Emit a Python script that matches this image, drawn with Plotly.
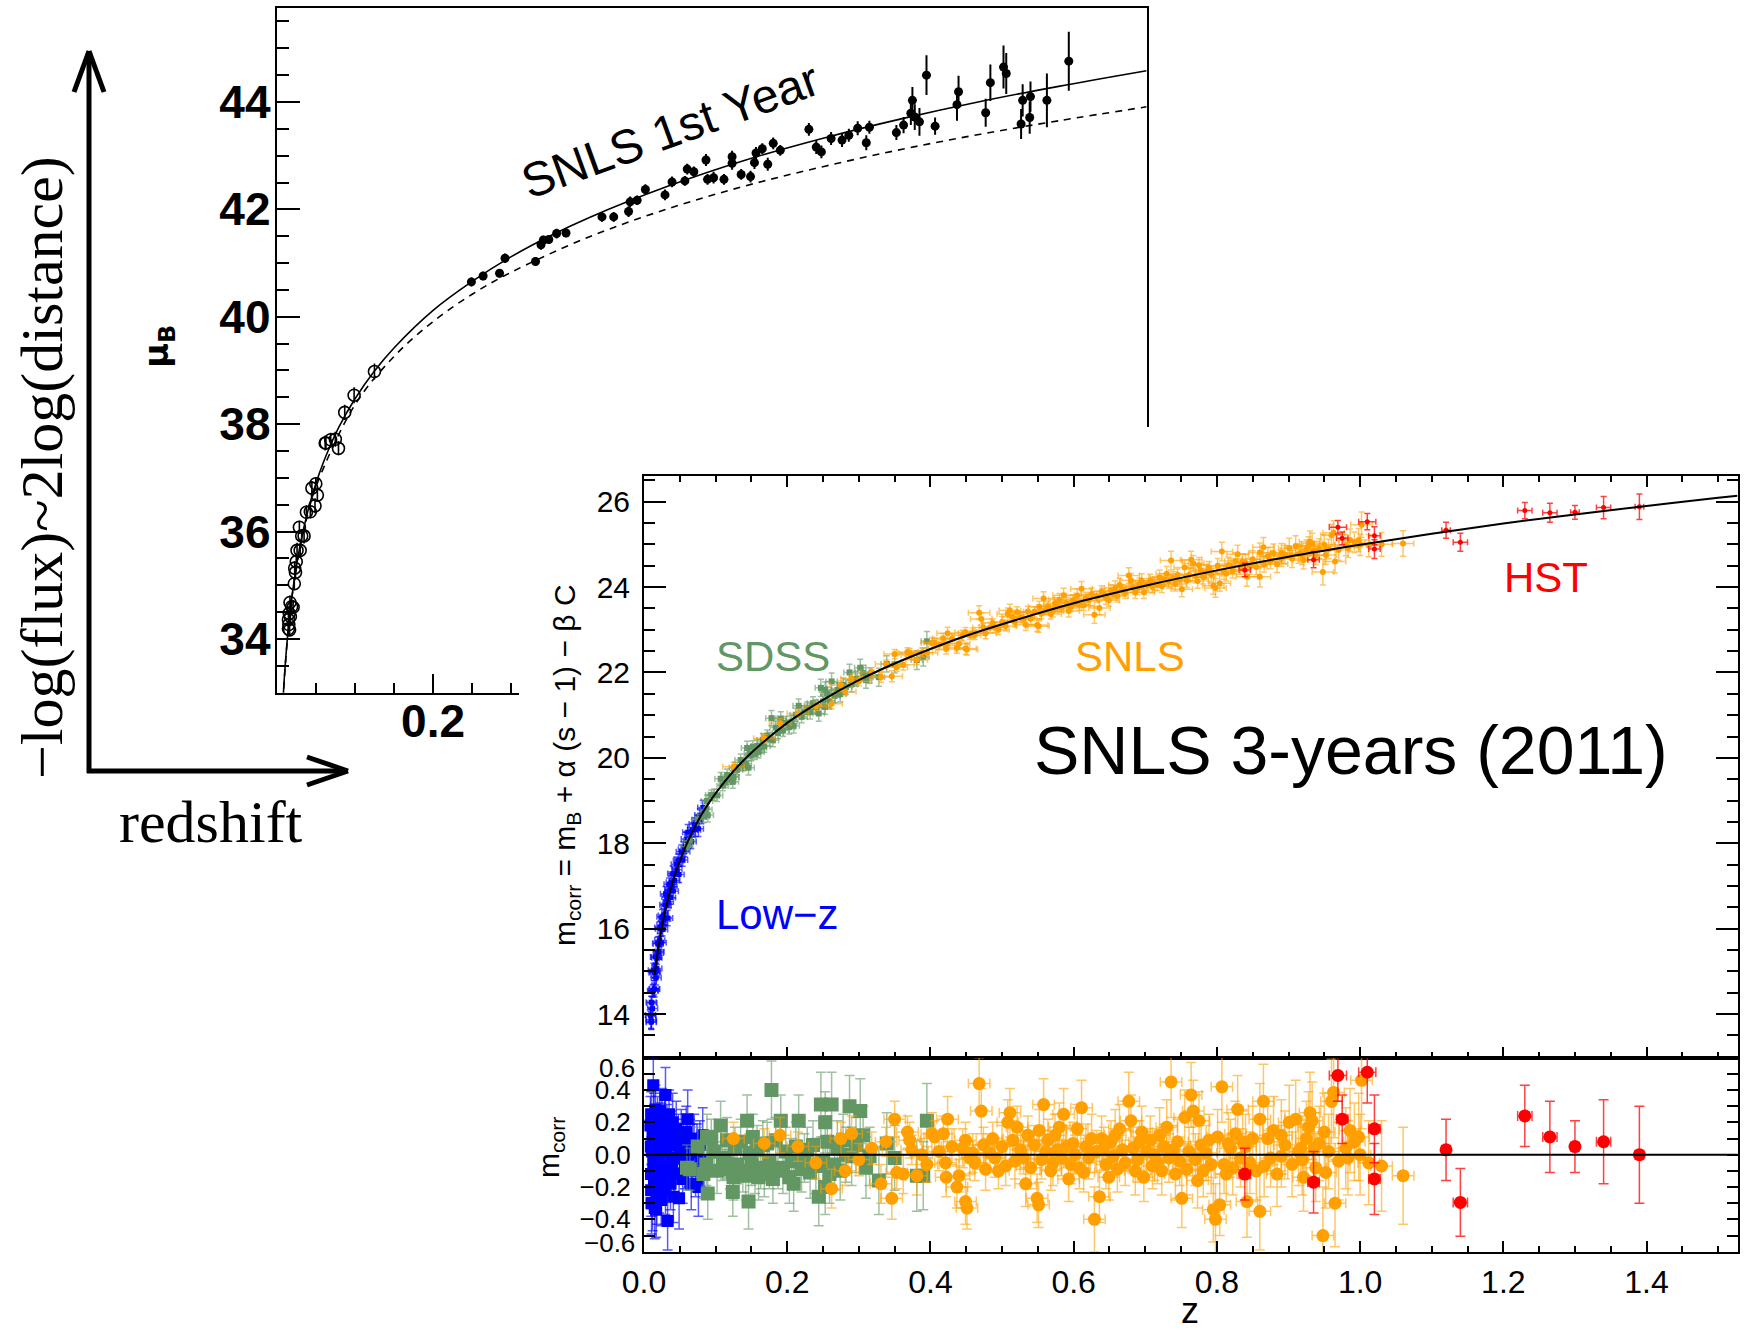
import plotly.graph_objects as go

W, H = 1747, 1333


def fx(px):
    return px / W


def fy(py):
    return 1 - py / H


# ---------------- SNLS first-year Hubble diagram (upper left) ----------------
near_z = [0.0150, 0.0150, 0.0155, 0.0160, 0.0165, 0.0170, 0.0175, 0.0190, 0.0210, 0.0225,
          0.0230, 0.0250, 0.0260, 0.0240, 0.0290, 0.0300, 0.0320, 0.0350, 0.0380, 0.0430,
          0.0450, 0.0490, 0.0500, 0.0520, 0.0620, 0.0630, 0.0690, 0.0750, 0.0790, 0.0870,
          0.0990, 0.1250]
near_mu = [34.36, 34.19, 34.27, 34.48, 34.17, 34.68, 34.42, 34.60, 34.59, 35.03,
           35.32, 35.44, 35.65, 35.24, 36.08, 35.65, 35.92, 35.92, 36.36, 36.37,
           36.81, 36.48, 36.89, 36.68, 37.65, 37.65, 37.71, 37.72, 37.55, 38.22,
           38.54, 38.98]
near_err = [0.12, 0.13, 0.12, 0.14, 0.12, 0.13, 0.12, 0.14, 0.13, 0.12,
            0.13, 0.12, 0.14, 0.13, 0.12, 0.13, 0.12, 0.14, 0.13, 0.12,
            0.13, 0.14, 0.12, 0.13, 0.14, 0.12, 0.13, 0.14, 0.13, 0.14,
            0.15, 0.15]

snls1_z = [0.249, 0.264, 0.285, 0.292, 0.331, 0.338, 0.341, 0.348, 0.358, 0.370,
           0.416, 0.431, 0.450, 0.452, 0.461, 0.4715, 0.4966, 0.5056, 0.522, 0.525,
           0.5335, 0.549, 0.551, 0.5587, 0.572, 0.5824, 0.5824, 0.594, 0.606, 0.611,
           0.613, 0.621, 0.628, 0.635, 0.644, 0.6806, 0.690, 0.6966, 0.709, 0.723,
           0.7317, 0.743, 0.754, 0.758, 0.7925, 0.8017, 0.811, 0.813, 0.816, 0.822,
           0.831, 0.842, 0.870, 0.872, 0.9067, 0.9127, 0.9295, 0.933, 0.952, 0.954,
           0.963, 0.964, 0.985, 1.013]
snls1_mu = [40.65, 40.76, 40.81, 41.09, 41.03, 41.34, 41.43, 41.44, 41.55, 41.56,
            41.86, 41.86, 41.96, 42.14, 42.17, 42.37, 42.27, 42.51, 42.53, 42.75,
            42.70, 42.92, 42.56, 42.59, 42.56, 42.98, 42.86, 42.65, 42.61, 42.87,
            43.05, 43.13, 42.84, 43.23, 43.10, 43.49, 43.16, 43.07, 43.32, 43.29,
            43.38, 43.51, 43.24, 43.53, 43.43, 43.57, 43.79, 44.03, 43.72, 43.63,
            44.50, 43.55, 43.95, 44.19, 43.80, 44.36, 44.65, 44.53, 43.59, 44.03,
            43.71, 44.10, 44.03, 44.76]
snls1_err = [0.08, 0.08, 0.08, 0.09, 0.08, 0.09, 0.08, 0.08, 0.09, 0.08,
             0.09, 0.09, 0.10, 0.10, 0.09, 0.10, 0.10, 0.10, 0.09, 0.10,
             0.10, 0.11, 0.10, 0.11, 0.10, 0.11, 0.12, 0.10, 0.11, 0.12,
             0.11, 0.10, 0.12, 0.11, 0.10, 0.12, 0.13, 0.12, 0.12, 0.13,
             0.12, 0.13, 0.14, 0.12, 0.14, 0.15, 0.22, 0.25, 0.24, 0.26,
             0.37, 0.16, 0.30, 0.30, 0.26, 0.34, 0.40, 0.38, 0.28, 0.30,
             0.30, 0.28, 0.50, 0.55]

# accelerating (solid) and matter-only (dashed) distance-modulus curves
lcdm_z = [0.008, 0.010, 0.015, 0.020, 0.030, 0.040, 0.050, 0.060, 0.070, 0.080,
          0.100, 0.125, 0.150, 0.200, 0.250, 0.300, 0.350, 0.400, 0.500, 0.600,
          0.700, 0.800, 0.900, 1.000, 1.1125]
lcdm_mu = [32.82, 33.33, 34.22, 34.85, 35.75, 36.39, 36.89, 37.30, 37.65, 37.96,
           38.47, 38.99, 39.42, 40.12, 40.66, 41.12, 41.51, 41.85, 42.43, 42.92,
           43.33, 43.69, 44.01, 44.29, 44.58]
eds_z = [0.008, 0.010, 0.015, 0.020, 0.030, 0.040, 0.050, 0.100, 0.150, 0.200,
         0.250, 0.300, 0.400, 0.500, 0.600, 0.700, 0.800, 0.900, 1.000, 1.1125]
eds_mu = [32.83, 33.31, 34.20, 34.83, 35.71, 36.34, 36.83, 38.36, 39.26, 39.91,
          40.42, 40.83, 41.49, 42.01, 42.44, 42.80, 43.12, 43.40, 43.65, 43.91]

# ---------------- SNLS 3-year Hubble diagram (lower right) ----------------
fit_z = [0.015, 0.02, 0.03, 0.04, 0.05, 0.06, 0.07, 0.08, 0.09, 0.10,
         0.125, 0.15, 0.20, 0.25, 0.30, 0.35, 0.40, 0.45, 0.50, 0.60,
         0.70, 0.80, 0.90, 1.00, 1.10, 1.20, 1.30, 1.40, 1.50, 1.527]
fit_m = [14.92, 15.55, 16.45, 17.09, 17.59, 18.00, 18.35, 18.66, 18.93, 19.17,
         19.69, 20.12, 20.82, 21.36, 21.82, 22.21, 22.55, 22.86, 23.13, 23.62,
         24.03, 24.39, 24.71, 24.99, 25.25, 25.49, 25.70, 25.90, 26.09, 26.14]

lowz_z = [0.0090, 0.0095, 0.0098, 0.0100, 0.0100, 0.0105, 0.0110, 0.0120, 0.0120, 0.0130,
          0.0130, 0.0140, 0.0140, 0.0150, 0.0150, 0.0160, 0.0160, 0.0170, 0.0170, 0.0180,
          0.0180, 0.0190, 0.0200, 0.0200, 0.0210, 0.0220, 0.0220, 0.0230, 0.0240, 0.0250,
          0.0250, 0.0260, 0.0270, 0.0280, 0.0290, 0.0300, 0.0300, 0.0310, 0.0320, 0.0330,
          0.0340, 0.0350, 0.0360, 0.0370, 0.0380, 0.0390, 0.0400, 0.0410, 0.0420, 0.0430,
          0.0450, 0.0460, 0.0480, 0.0490, 0.0500, 0.0520, 0.0540, 0.0550, 0.0570, 0.0590,
          0.0610, 0.0620, 0.0640, 0.0660, 0.0680, 0.0700, 0.0720, 0.0740, 0.0760, 0.0780,
          0.0800, 0.0820]
lowz_m = [13.98, 13.96, 13.87, 14.28, 13.81, 13.83, 14.26, 14.13, 14.55, 15.03,
          14.55, 14.97, 14.59, 15.00, 14.59, 15.34, 14.98, 14.85, 15.34, 15.32,
          15.07, 15.66, 15.43, 15.65, 15.46, 16.03, 15.73, 16.00, 15.67, 16.09,
          16.28, 15.98, 16.31, 16.22, 16.56, 16.82, 16.23, 16.54, 16.74, 16.25,
          16.63, 17.04, 16.91, 16.73, 17.09, 16.98, 17.29, 16.88, 17.28, 17.13,
          17.51, 17.38, 17.60, 17.27, 17.61, 17.80, 17.61, 17.86, 17.81, 18.10,
          18.26, 18.03, 18.23, 18.04, 18.31, 18.45, 18.32, 18.53, 18.34, 18.66,
          18.62, 18.84]
lowz_res = [0.18, 0.05, -0.12, 0.25, -0.22, -0.30, 0.02, -0.30, 0.12, 0.43,
            -0.05, 0.20, -0.18, 0.08, -0.33, 0.28, -0.08, -0.34, 0.15, 0.00,
            -0.25, 0.22, -0.12, 0.10, -0.20, 0.27, -0.03, 0.14, -0.28, 0.05,
            0.24, -0.15, 0.10, -0.07, 0.19, 0.37, -0.22, 0.02, 0.15, -0.41,
            -0.10, 0.25, 0.06, -0.18, 0.12, -0.05, 0.20, -0.26, 0.08, -0.12,
            0.16, -0.02, 0.10, -0.27, 0.02, 0.12, -0.15, 0.05, -0.08, 0.14,
            0.22, -0.05, 0.08, -0.18, 0.02, 0.10, -0.10, 0.05, -0.20, 0.06,
            -0.04, 0.12]
lowz_err = [0.18, 0.15, 0.20, 0.14, 0.16, 0.19, 0.15, 0.17, 0.13, 0.16,
            0.15, 0.18, 0.14, 0.16, 0.19, 0.15, 0.13, 0.17, 0.15, 0.16,
            0.18, 0.14, 0.15, 0.17, 0.16, 0.13, 0.15, 0.18, 0.16, 0.14,
            0.17, 0.15, 0.16, 0.14, 0.19, 0.17, 0.15, 0.13, 0.16, 0.18,
            0.14, 0.15, 0.17, 0.16, 0.15, 0.13, 0.18, 0.16, 0.14, 0.15,
            0.17, 0.16, 0.15, 0.19, 0.14, 0.16, 0.15, 0.17, 0.13, 0.16,
            0.18, 0.15, 0.14, 0.16, 0.17, 0.15, 0.16, 0.14, 0.18, 0.15,
            0.16, 0.17]

sdss_z = [0.060, 0.064, 0.075, 0.083, 0.087, 0.088, 0.089, 0.094, 0.098, 0.102,
          0.107, 0.110, 0.113, 0.116, 0.120, 0.124, 0.124, 0.125, 0.127, 0.130,
          0.135, 0.138, 0.142, 0.144, 0.146, 0.148, 0.150, 0.152, 0.155, 0.158,
          0.160, 0.163, 0.166, 0.168, 0.172, 0.175, 0.178, 0.180, 0.184, 0.187,
          0.191, 0.194, 0.198, 0.203, 0.206, 0.209, 0.212, 0.216, 0.220, 0.224,
          0.228, 0.232, 0.236, 0.240, 0.244, 0.247, 0.250, 0.253, 0.253, 0.256,
          0.259, 0.262, 0.266, 0.270, 0.274, 0.278, 0.282, 0.287, 0.290, 0.296,
          0.302, 0.306, 0.310, 0.315, 0.328, 0.339, 0.350, 0.381, 0.390, 0.395]
sdss_m = [17.92, 18.06, 18.56, 18.63, 18.79, 18.99, 18.66, 19.13, 19.14, 19.12,
          19.51, 19.35, 19.43, 19.60, 19.50, 19.56, 19.44, 19.55, 19.77, 19.72,
          19.95, 19.82, 19.86, 20.23, 19.77, 20.10, 20.06, 20.26, 20.09, 20.28,
          20.14, 20.24, 20.42, 20.27, 20.52, 20.44, 20.93, 20.41, 20.71, 20.58,
          20.92, 20.64, 20.82, 20.72, 20.85, 20.75, 21.01, 21.22, 20.96, 21.07,
          21.17, 21.07, 21.28, 21.19, 21.04, 21.64, 21.32, 21.59, 21.19, 21.50,
          21.33, 21.79, 21.45, 21.59, 21.49, 21.71, 21.66, 22.00, 21.72, 21.85,
          22.11, 21.99, 21.82, 21.93, 21.89, 22.20, 22.19, 22.29, 22.36, 22.73]
sdss_res = [-0.08, -0.09, 0.05, -0.12, -0.06, 0.11, -0.24, 0.10, 0.02, -0.10,
            0.18, -0.04, -0.02, 0.09, -0.09, -0.11, -0.23, -0.14, 0.04, -0.06,
            0.08, -0.10, -0.13, 0.21, -0.29, 0.01, -0.06, 0.11, -0.11, 0.03,
            -0.14, -0.08, 0.06, -0.12, 0.07, -0.05, 0.40, -0.15, 0.09, -0.08,
            0.21, -0.10, 0.02, -0.14, -0.04, -0.18, 0.05, 0.21, -0.09, -0.02,
            0.03, -0.11, 0.06, -0.07, -0.26, 0.31, -0.04, 0.20, -0.20, 0.08,
            -0.12, 0.31, -0.06, 0.04, -0.10, 0.09, 0.00, 0.30, -0.01, 0.06,
            0.27, 0.12, -0.08, -0.01, -0.16, 0.07, -0.02, -0.13, -0.13, 0.21]
sdss_err = [0.14, 0.13, 0.12, 0.15, 0.13, 0.14, 0.16, 0.12, 0.13, 0.14,
            0.15, 0.12, 0.13, 0.14, 0.12, 0.13, 0.15, 0.14, 0.13, 0.12,
            0.14, 0.13, 0.15, 0.16, 0.17, 0.12, 0.13, 0.14, 0.13, 0.15,
            0.14, 0.13, 0.15, 0.14, 0.13, 0.16, 0.18, 0.15, 0.14, 0.13,
            0.16, 0.14, 0.15, 0.16, 0.14, 0.17, 0.15, 0.16, 0.14, 0.15,
            0.14, 0.16, 0.15, 0.17, 0.18, 0.20, 0.15, 0.19, 0.17, 0.16,
            0.18, 0.20, 0.16, 0.17, 0.18, 0.16, 0.17, 0.19, 0.18, 0.17,
            0.20, 0.18, 0.19, 0.18, 0.21, 0.19, 0.20, 0.22, 0.21, 0.23]

snls_z = [0.125, 0.168, 0.190, 0.215, 0.240, 0.262, 0.275, 0.281, 0.290, 0.300,
          0.318, 0.331, 0.338, 0.346, 0.350, 0.353, 0.362, 0.368, 0.371, 0.374,
          0.381, 0.388, 0.395, 0.402, 0.406, 0.412, 0.418, 0.421, 0.422, 0.424,
          0.430, 0.437, 0.440, 0.445, 0.449, 0.449, 0.451, 0.455, 0.459, 0.462,
          0.468, 0.471, 0.474, 0.477, 0.483, 0.487, 0.490, 0.495, 0.500, 0.505,
          0.508, 0.511, 0.515, 0.518, 0.521, 0.526, 0.530, 0.533, 0.536, 0.540,
          0.545, 0.549, 0.551, 0.552, 0.555, 0.558, 0.561, 0.564, 0.568, 0.571,
          0.574, 0.577, 0.580, 0.583, 0.586, 0.590, 0.593, 0.596, 0.599, 0.602,
          0.605, 0.608, 0.611, 0.614, 0.617, 0.621, 0.625, 0.629, 0.632, 0.636,
          0.639, 0.642, 0.645, 0.649, 0.652, 0.655, 0.658, 0.661, 0.664, 0.668,
          0.672, 0.677, 0.680, 0.683, 0.686, 0.689, 0.692, 0.695, 0.698, 0.702,
          0.707, 0.710, 0.713, 0.717, 0.720, 0.723, 0.726, 0.730, 0.733, 0.736,
          0.739, 0.742, 0.745, 0.748, 0.751, 0.755, 0.758, 0.761, 0.764, 0.767,
          0.770, 0.773, 0.775, 0.778, 0.781, 0.785, 0.789, 0.792, 0.795, 0.798,
          0.801, 0.804, 0.807, 0.810, 0.813, 0.816, 0.819, 0.822, 0.826, 0.829,
          0.833, 0.836, 0.840, 0.842, 0.846, 0.850, 0.855, 0.860, 0.860, 0.865,
          0.866, 0.871, 0.875, 0.879, 0.884, 0.890, 0.890, 0.895, 0.901, 0.905,
          0.910, 0.914, 0.917, 0.919, 0.921, 0.925, 0.928, 0.930, 0.933, 0.936,
          0.938, 0.943, 0.948, 0.950, 0.952, 0.956, 0.960, 0.963, 0.965, 0.970,
          0.980, 0.983, 0.986, 0.992, 0.998, 1.000, 1.002, 1.012, 1.030, 1.060]
snls_m = [19.79, 20.46, 20.81, 21.04, 21.21, 21.27, 21.70, 21.55, 21.86, 21.79,
          22.01, 21.89, 22.20, 21.91, 22.43, 22.12, 22.18, 22.48, 22.45, 22.41,
          22.30, 22.47, 22.46, 22.69, 22.70, 22.65, 22.80, 22.63, 22.55, 22.92,
          22.79, 22.58, 22.67, 22.87, 22.94, 22.56, 22.54, 22.87, 22.92, 22.88,
          23.40, 23.25, 23.05, 22.92, 23.05, 23.16, 23.06, 23.00, 23.18, 23.09,
          23.37, 23.45, 23.30, 23.18, 23.41, 23.29, 23.26, 23.12, 23.43, 23.26,
          23.42, 23.11, 23.08, 23.54, 23.38, 23.73, 23.46, 23.54, 23.37, 23.44,
          23.62, 23.54, 23.70, 23.52, 23.81, 23.62, 23.44, 23.54, 23.69, 23.63,
          23.80, 23.58, 23.96, 23.57, 23.74, 23.69, 23.83, 23.35, 23.78, 23.51,
          23.89, 23.84, 23.75, 23.69, 23.92, 23.84, 23.98, 23.79, 24.05, 23.93,
          23.87, 24.27, 24.16, 24.00, 23.88, 23.96, 24.08, 24.15, 23.88, 24.06,
          24.15, 24.00, 24.08, 24.05, 24.23, 24.02, 24.18, 24.31, 24.13, 24.62,
          24.21, 24.07, 24.28, 24.17, 23.95, 24.46, 24.15, 24.28, 24.64, 24.55,
          24.26, 24.14, 24.51, 24.38, 24.23, 24.35, 24.44, 24.30, 24.03, 23.98,
          24.50, 24.09, 24.83, 24.36, 24.31, 24.51, 24.49, 24.38, 24.61, 24.77,
          24.48, 24.59, 24.57, 24.24, 24.49, 24.65, 24.47, 24.81, 24.24, 24.93,
          24.54, 24.72, 24.61, 24.80, 24.54, 24.80, 24.67, 24.76, 24.91, 24.66,
          24.96, 24.77, 24.80, 24.74, 24.63, 24.88, 24.96, 25.06, 25.02, 24.85,
          24.74, 24.90, 24.35, 24.99, 24.75, 24.89, 25.21, 25.27, 24.60, 24.87,
          24.98, 24.92, 25.10, 25.05, 25.10, 24.99, 25.46, 24.97, 25.00, 25.02]
snls_res = [0.10, 0.07, 0.12, 0.05, -0.05, -0.21, 0.10, -0.10, 0.13, -0.03,
            0.04, -0.18, 0.08, -0.27, 0.22, -0.11, -0.12, 0.14, 0.09, 0.03,
            -0.13, 0.00, -0.06, 0.13, 0.11, 0.02, 0.13, -0.05, -0.14, 0.22,
            0.05, -0.20, -0.13, 0.04, 0.09, -0.29, -0.33, -0.02, 0.01, -0.05,
            0.44, 0.27, 0.06, -0.09, 0.01, 0.10, -0.02, -0.10, 0.05, -0.07,
            0.20, 0.26, 0.09, -0.04, 0.17, 0.03, -0.02, -0.18, 0.12, -0.08,
            0.06, -0.27, -0.31, 0.15, -0.03, 0.31, 0.02, 0.09, -0.10, -0.05,
            0.12, 0.03, 0.17, -0.02, 0.25, 0.05, -0.15, -0.06, 0.07, 0.00,
            0.16, -0.08, 0.29, -0.11, 0.05, -0.02, 0.10, -0.40, 0.02, -0.26,
            0.10, 0.04, -0.06, -0.14, 0.08, -0.01, 0.12, -0.09, 0.16, 0.03,
            -0.05, 0.33, 0.21, 0.04, -0.10, -0.03, 0.08, 0.14, -0.14, 0.02,
            0.09, -0.07, 0.00, -0.05, 0.12, -0.10, 0.05, 0.17, -0.02, 0.45,
            0.03, -0.12, 0.08, -0.04, -0.27, 0.23, -0.09, 0.02, 0.37, 0.27,
            -0.03, -0.16, 0.21, 0.06, -0.10, 0.01, 0.09, -0.06, -0.34, -0.40,
            0.11, -0.31, 0.42, -0.06, -0.12, 0.07, 0.04, -0.08, 0.13, 0.28,
            -0.02, 0.08, 0.05, -0.29, -0.05, 0.10, -0.10, 0.22, -0.35, 0.33,
            -0.07, 0.10, -0.02, 0.15, -0.12, 0.12, -0.01, 0.06, 0.20, -0.06,
            0.22, 0.02, 0.04, -0.03, -0.14, 0.10, 0.17, 0.26, 0.21, 0.04,
            -0.08, 0.07, -0.50, 0.14, -0.11, 0.02, 0.33, 0.385, -0.30, -0.04,
            0.04, -0.02, 0.15, 0.08, 0.11, 0.00, 0.46, -0.05, -0.07, -0.13]
snls_err = [0.10, 0.09, 0.11, 0.09, 0.10, 0.12, 0.10, 0.09, 0.11, 0.10,
            0.10, 0.12, 0.09, 0.13, 0.11, 0.10, 0.12, 0.10, 0.11, 0.09,
            0.12, 0.10, 0.11, 0.13, 0.10, 0.12, 0.11, 0.10, 0.12, 0.14,
            0.11, 0.13, 0.10, 0.12, 0.11, 0.14, 0.13, 0.10, 0.12, 0.11,
            0.16, 0.14, 0.11, 0.13, 0.12, 0.10, 0.12, 0.11, 0.13, 0.12,
            0.14, 0.15, 0.12, 0.11, 0.13, 0.12, 0.10, 0.14, 0.12, 0.13,
            0.12, 0.15, 0.14, 0.13, 0.12, 0.16, 0.11, 0.13, 0.12, 0.14,
            0.13, 0.12, 0.15, 0.11, 0.16, 0.13, 0.14, 0.12, 0.13, 0.12,
            0.15, 0.13, 0.17, 0.12, 0.14, 0.13, 0.15, 0.20, 0.13, 0.16,
            0.14, 0.13, 0.15, 0.14, 0.13, 0.12, 0.16, 0.14, 0.15, 0.13,
            0.14, 0.18, 0.16, 0.13, 0.15, 0.14, 0.13, 0.16, 0.15, 0.14,
            0.15, 0.14, 0.16, 0.13, 0.17, 0.15, 0.14, 0.17, 0.15, 0.22,
            0.15, 0.16, 0.14, 0.15, 0.18, 0.17, 0.16, 0.15, 0.20, 0.19,
            0.16, 0.17, 0.18, 0.15, 0.16, 0.17, 0.16, 0.18, 0.20, 0.22,
            0.17, 0.19, 0.22, 0.18, 0.17, 0.19, 0.18, 0.17, 0.20, 0.21,
            0.18, 0.19, 0.20, 0.22, 0.19, 0.20, 0.18, 0.22, 0.24, 0.23,
            0.19, 0.20, 0.18, 0.21, 0.20, 0.22, 0.19, 0.21, 0.23, 0.20,
            0.24, 0.21, 0.20, 0.22, 0.21, 0.23, 0.22, 0.25, 0.24, 0.22,
            0.21, 0.23, 0.30, 0.24, 0.22, 0.23, 0.26, 0.28, 0.27, 0.24,
            0.25, 0.23, 0.26, 0.24, 0.27, 0.25, 0.30, 0.26, 0.28, 0.30]

hst_z = [0.839, 0.935, 0.969, 0.975, 1.010, 1.020, 1.020, 1.120, 1.140, 1.230,
         1.265, 1.300, 1.340, 1.390]
hst_m = [24.40, 24.64, 25.40, 25.14, 25.53, 25.20, 24.89, 25.33, 25.05, 25.79,
         25.74, 25.75, 25.86, 25.88]
hst_res = [-0.12, -0.17, 0.49, 0.22, 0.51, 0.16, -0.15, 0.03, -0.295, 0.24,
           0.11, 0.05, 0.08, 0.00]
hst_err = [0.16, 0.19, 0.16, 0.15, 0.19, 0.21, 0.22, 0.19, 0.21, 0.19,
           0.22, 0.16, 0.26, 0.30]
hst_zerr = [0.008, 0.008, 0.012, 0.008, 0.012, 0.008, 0.008, 0.006, 0.010, 0.010,
            0.010, 0.006, 0.010, 0.006]

# typical redshift uncertainty of each sample
lowz_zerr = 0.007
sdss_zerr = 0.008
snls_zerr = 0.015

BLACK = "black"
SANS = "Liberation Sans, Arial, Helvetica, sans-serif"
SERIF = "Liberation Serif, Times New Roman, serif"
WIDE = "DejaVu Sans, Verdana, sans-serif"

fig = go.Figure()

# ---- upper-left panel ----
fig.add_trace(go.Scatter(x=lcdm_z, y=lcdm_mu, mode="lines", xaxis="x", yaxis="y",
                         line=dict(color=BLACK, width=1.6, shape="spline")))
fig.add_trace(go.Scatter(x=eds_z, y=eds_mu, mode="lines", xaxis="x", yaxis="y",
                         line=dict(color=BLACK, width=1.6, dash="7px,6px", shape="spline")))
fig.add_trace(go.Scatter(x=near_z, y=near_mu, mode="markers", xaxis="x", yaxis="y",
                         marker=dict(symbol="circle-open", size=12, color=BLACK,
                                     line=dict(width=1.6, color=BLACK)),
                         error_y=dict(type="data", array=near_err, color=BLACK,
                                      thickness=1.6, width=0)))
fig.add_trace(go.Scatter(x=snls1_z, y=snls1_mu, mode="markers", xaxis="x", yaxis="y",
                         marker=dict(symbol="circle", size=9, color=BLACK),
                         error_y=dict(type="data", array=snls1_err, color=BLACK,
                                      thickness=2, width=0)))

# blank panel that masks the part of the upper plot lying behind the inset
fig.add_trace(go.Scatter(x=[None], y=[None], xaxis="x2", yaxis="y2", mode="markers",
                         hoverinfo="skip"))

# ---- SNLS 3-year Hubble diagram and residuals ----
surveys = [
    (lowz_z, lowz_m, lowz_res, lowz_err, dict(type="constant", value=lowz_zerr),
     "rgb(0,0,255)", "rgba(0,0,255,0.65)", "square", 5, 12),
    (sdss_z, sdss_m, sdss_res, sdss_err, dict(type="constant", value=sdss_zerr),
     "rgb(98,150,98)", "rgba(98,150,98,0.6)", "square", 6, 14),
    (snls_z, snls_m, snls_res, snls_err, dict(type="constant", value=snls_zerr),
     "rgb(255,160,0)", "rgba(255,160,0,0.6)", "circle", 6, 13),
    (hst_z, hst_m, hst_res, hst_err, dict(type="data", array=hst_zerr),
     "rgb(255,0,0)", "rgba(255,0,0,0.75)", "circle", 5, 13),
]

for zs, ms, rs, es, zerr, col, ecol, sym, s_main, s_res in surveys:
    fig.add_trace(go.Scatter(
        x=zs, y=ms, mode="markers", xaxis="x3", yaxis="y3",
        marker=dict(symbol=sym, size=s_main, color=col, line=dict(width=0)),
        error_y=dict(type="data", array=es, color=ecol, thickness=1.5, width=3),
        error_x=dict(zerr, color=ecol, thickness=1.5, width=3)))

fig.add_trace(go.Scatter(x=fit_z, y=fit_m, mode="lines", xaxis="x3", yaxis="y3",
                         line=dict(color=BLACK, width=2, shape="spline")))

for zs, ms, rs, es, zerr, col, ecol, sym, s_main, s_res in surveys:
    fig.add_trace(go.Scatter(
        x=zs, y=rs, mode="markers", xaxis="x4", yaxis="y4",
        marker=dict(symbol=sym, size=s_res, color=col, line=dict(width=0)),
        error_y=dict(type="data", array=es, color=ecol, thickness=1.5, width=5),
        error_x=dict(zerr, color=ecol, thickness=1.5, width=5)))

axis_base = dict(showgrid=False, zeroline=False, showline=True, linecolor=BLACK,
                 linewidth=2, ticks="inside", tickcolor=BLACK, tickwidth=2,
                 automargin=False)
minor_base = dict(ticks="inside", tickcolor=BLACK, tickwidth=2, showgrid=False)

lower_x = [fx(644), fx(1737.5)]
bold_tick = dict(family=SANS, size=46, color=BLACK, weight="bold")

fig.update_layout(
    width=W, height=H,
    margin=dict(l=0, r=0, t=0, b=0, autoexpand=False),
    paper_bgcolor="white", plot_bgcolor="white",
    showlegend=False,
    xaxis=dict(axis_base, domain=[fx(276.7), fx(1146.6)], range=[0, 1.1125], anchor="y",
               mirror=True, tickmode="array", tickvals=[0.2, 0.4, 0.6, 0.8, 1.0],
               ticktext=["0.2", "0.4", "0.6", "0.8", "1.0"], ticklen=19,
               ticklabelstandoff=-13, tickfont=bold_tick,
               minor=dict(minor_base, tickmode="linear", tick0=0, dtick=0.05, ticklen=10)),
    yaxis=dict(axis_base, domain=[fy(692.7), fy(8)], range=[33, 45.75], anchor="x",
               mirror=True, tickmode="array", tickvals=[34, 36, 38, 40, 42, 44],
               ticklen=23, ticklabelstandoff=-5, tickfont=bold_tick,
               minor=dict(minor_base, tickmode="linear", tick0=0, dtick=0.5, ticklen=12)),
    xaxis2=dict(domain=[fx(519), 1], anchor="y2", visible=False, automargin=False),
    yaxis2=dict(domain=[0, fy(427)], anchor="x2", visible=False, automargin=False),
    xaxis3=dict(axis_base, domain=lower_x, range=[0, 1.527], anchor="y3", mirror="ticks",
                tickmode="linear", tick0=0, dtick=0.2, ticklen=11, showticklabels=False,
                minor=dict(minor_base, tickmode="linear", tick0=0, dtick=0.05, ticklen=6)),
    yaxis3=dict(axis_base, domain=[fy(1057.7), fy(476)], range=[12.98, 26.6], anchor="x3",
                mirror="ticks", tickmode="linear", tick0=0, dtick=2, ticklen=22,
                ticklabelstandoff=6, tickfont=dict(family=SANS, size=30, color=BLACK),
                minor=dict(minor_base, tickmode="linear", tick0=0, dtick=0.5, ticklen=11)),
    xaxis4=dict(axis_base, domain=lower_x, range=[0, 1.527], anchor="y4", mirror=True,
                tickmode="linear", tick0=0, dtick=0.2, tickformat=".1f", ticklen=11,
                ticklabelstandoff=1, tickfont=dict(family=SANS, size=32, color=BLACK),
                minor=dict(minor_base, tickmode="linear", tick0=0, dtick=0.05, ticklen=6)),
    yaxis4=dict(axis_base, domain=[fy(1251.7), fy(1057.7)], range=[-0.6, 0.6], anchor="x4",
                mirror="ticks", tickmode="array", tickvals=[-0.4, -0.2, 0, 0.2, 0.4],
                tickformat=".1f", ticklen=11, ticklabelstandoff=6,
                tickfont=dict(family=SANS, size=26, color=BLACK),
                minor=dict(minor_base, tickmode="linear", tick0=0, dtick=0.1, ticklen=11)),
)

# zero line of the residual panel
shapes = [dict(type="line", xref="x4 domain", yref="y4", x0=0, x1=1, y0=0, y1=0,
               line=dict(color=BLACK, width=2), layer="above")]


def seg(x0, y0, x1, y1, w=5):
    return dict(type="line", xref="paper", yref="paper", x0=fx(x0), y0=fy(y0),
                x1=fx(x1), y1=fy(y1), line=dict(color=BLACK, width=w))


# schematic arrows: flux axis (up) and redshift axis (right)
shapes += [
    seg(89, 773, 89, 52), seg(89, 51, 74, 92), seg(89, 51, 104, 92),
    seg(87, 771, 346, 771), seg(348, 771, 307, 757), seg(348, 771, 307, 785),
]
fig.update_layout(shapes=shapes)


def note(text, x, y, size, color=BLACK, family=SANS, angle=0, xanchor="center",
         yanchor="middle"):
    return dict(text=text, x=fx(x), y=fy(y), xref="paper", yref="paper",
                showarrow=False, textangle=angle, xanchor=xanchor, yanchor=yanchor,
                font=dict(family=family, size=size, color=color))


annotations = [
    note("SNLS 1st Year", 670, 130, 48, angle=-20),
    note("<b>μ<sub>B</sub></b>", 159, 347, 34, family=WIDE, angle=-90),
    note("−log(flux)~2log(distance)", 42, 468, 60, family=SERIF, angle=-90),
    note("redshift", 211, 822, 60, family=SERIF),
    note("m<sub>corr</sub> = m<sub>B</sub> + α (s − 1) − β C", 566, 765, 30, angle=-90),
    note("m<sub>corr</sub>", 550, 1148, 30, angle=-90),
    note("z", 1190, 1333, 36, yanchor="bottom"),
    note("SDSS", 773, 657, 42, color="rgb(98,150,98)"),
    note("Low−z", 777, 914, 42, color="rgb(0,0,255)"),
    note("SNLS", 1130, 657, 42, color="rgb(255,160,0)"),
    note("HST", 1546, 577, 42, color="rgb(255,0,0)"),
    note("SNLS 3-years (2011)", 1351, 750, 68),
    note("0.6", 637, 1068, 26, xanchor="right"),
    note("−0.6", 637, 1243, 26, xanchor="right"),
]
fig.update_layout(annotations=annotations)

fig.write_html("out.html")
